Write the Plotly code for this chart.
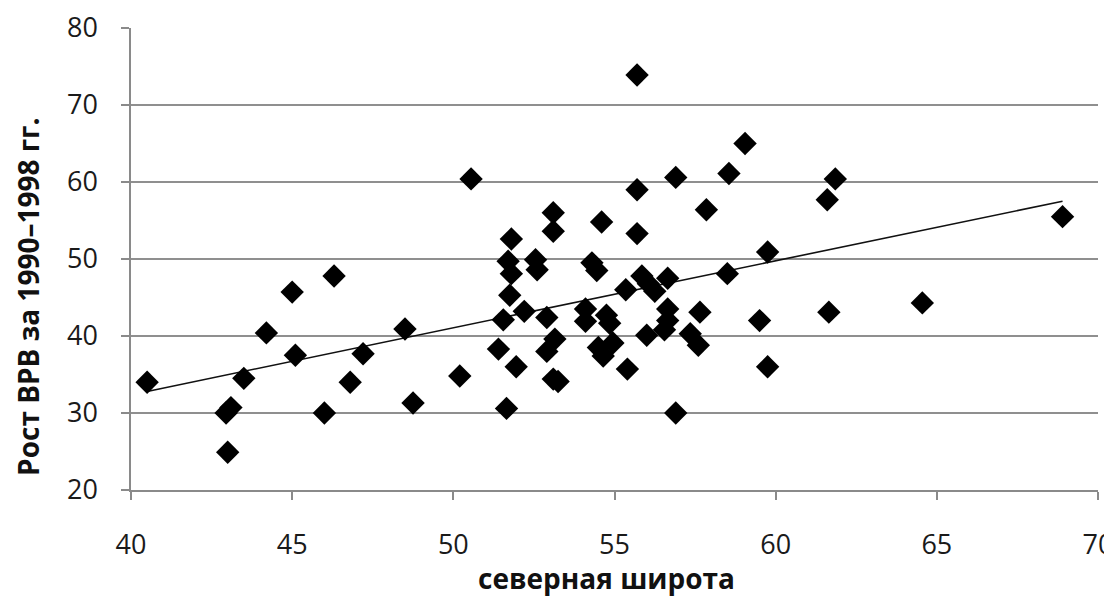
import numpy as np
import plotly.graph_objects as go

# северная широта
latitude = [
    40.5, 42.95, 43.1, 43.0, 43.5, 44.2, 45.0, 45.1, 46.0, 46.3,
    46.8, 47.2, 48.5, 48.75, 50.2, 50.55, 51.65, 51.4, 51.55, 51.75,
    51.8, 51.7, 51.8, 51.95, 52.2, 52.55, 52.6, 52.9, 52.9, 53.15,
    53.1, 53.25, 53.1, 53.1, 54.1, 54.1, 54.3, 54.45, 54.6, 54.75,
    54.85, 54.5, 54.65, 54.95, 55.4, 55.35, 55.7, 55.7, 55.7, 55.85,
    56.05, 56.25, 56.65, 56.0, 56.65, 56.65, 56.55, 56.9, 56.9, 57.35,
    57.6, 57.65, 57.85, 58.5, 58.55, 59.05, 59.5, 59.75, 59.75, 61.6,
    61.65, 61.85, 64.55, 68.9,
]

# Рост ВРВ за 1990–1998 гг.
growth = [
    34.0, 30.0, 30.7, 24.9, 34.5, 40.4, 45.7, 37.5, 30.0, 47.8,
    34.0, 37.7, 40.9, 31.3, 34.8, 60.4, 30.6, 38.3, 42.1, 45.3,
    48.1, 49.7, 52.6, 36.0, 43.2, 49.9, 48.6, 42.4, 38.0, 39.6,
    34.4, 34.1, 56.0, 53.6, 43.5, 41.9, 49.5, 48.5, 54.8, 42.7,
    41.65, 38.5, 37.4, 39.1, 35.7, 46.0, 59.0, 53.3, 73.9, 47.8,
    46.8, 45.8, 47.5, 40.1, 43.5, 42.0, 40.8, 60.6, 30.0, 40.3,
    38.8, 43.1, 56.4, 48.1, 61.1, 65.0, 42.0, 50.9, 36.0, 57.7,
    43.1, 60.4, 44.3, 55.5,
]

x_ticks = [40, 45, 50, 55, 60, 65, 70]
y_ticks = [20, 30, 40, 50, 60, 70, 80]

x_title = "северная широта"
y_title = "Рост ВРВ за 1990–1998 гг."

# linear trend (least squares) through the data
coef = np.polyfit(latitude, growth, 1)
trend_x = [min(latitude), max(latitude)]
trend_y = [coef[0] * v + coef[1] for v in trend_x]

fig = go.Figure()
fig.add_trace(go.Scatter(
    x=trend_x, y=trend_y, mode="lines",
    line=dict(color="#111111", width=1.6),
    hoverinfo="skip", showlegend=False,
))
fig.add_trace(go.Scatter(
    x=latitude, y=growth, mode="markers",
    marker=dict(symbol="diamond", size=18, color="#000000",
                line=dict(width=0)),
    showlegend=False,
))

tick_font = dict(family="Open Sans, Lato, sans-serif", size=27, color="#1a1a1a")

fig.update_layout(
    width=1112, height=589,
    margin=dict(l=123, r=22, t=20, b=107, autoexpand=False),
    paper_bgcolor="white", plot_bgcolor="white",
    showlegend=False,
    xaxis=dict(
        range=[40, 70], tickmode="array", tickvals=x_ticks,
        ticktext=[str(v) for v in x_ticks],
        showgrid=False, zeroline=False, automargin=False,
        showline=True, linecolor="#8a8a8a", linewidth=1.5,
        ticks="outside", ticklen=8, tickcolor="#8a8a8a", tickwidth=1.5,
        tickfont=tick_font, ticklabelstandoff=22,
        ticklabeloverflow="allow",
    ),
    yaxis=dict(
        range=[20, 80], tickmode="array", tickvals=y_ticks,
        ticktext=[str(v) for v in y_ticks],
        showgrid=True, gridcolor="#8f8f8f", gridwidth=1.5,
        zeroline=False, automargin=False,
        showline=True, linecolor="#8a8a8a", linewidth=1.5,
        ticks="outside", ticklen=8, tickcolor="#8a8a8a", tickwidth=1.5,
        tickfont=tick_font, ticklabelstandoff=18,
        ticklabeloverflow="allow",
    ),
    annotations=[
        dict(text="<b>" + x_title + "</b>", xref="paper", yref="paper",
             x=0.492, y=-0.19, xanchor="center", yanchor="middle",
             showarrow=False,
             font=dict(family="Open Sans, Lato, sans-serif", size=28, color="#111111")),
        dict(text="<b>" + y_title + "</b>", xref="paper", yref="paper",
             x=-0.106, y=0.419, xanchor="center", yanchor="middle",
             textangle=-90, showarrow=False,
             font=dict(family="Open Sans, Lato, sans-serif", size=28, color="#111111")),
    ],
)

fig.write_html("out.html")
